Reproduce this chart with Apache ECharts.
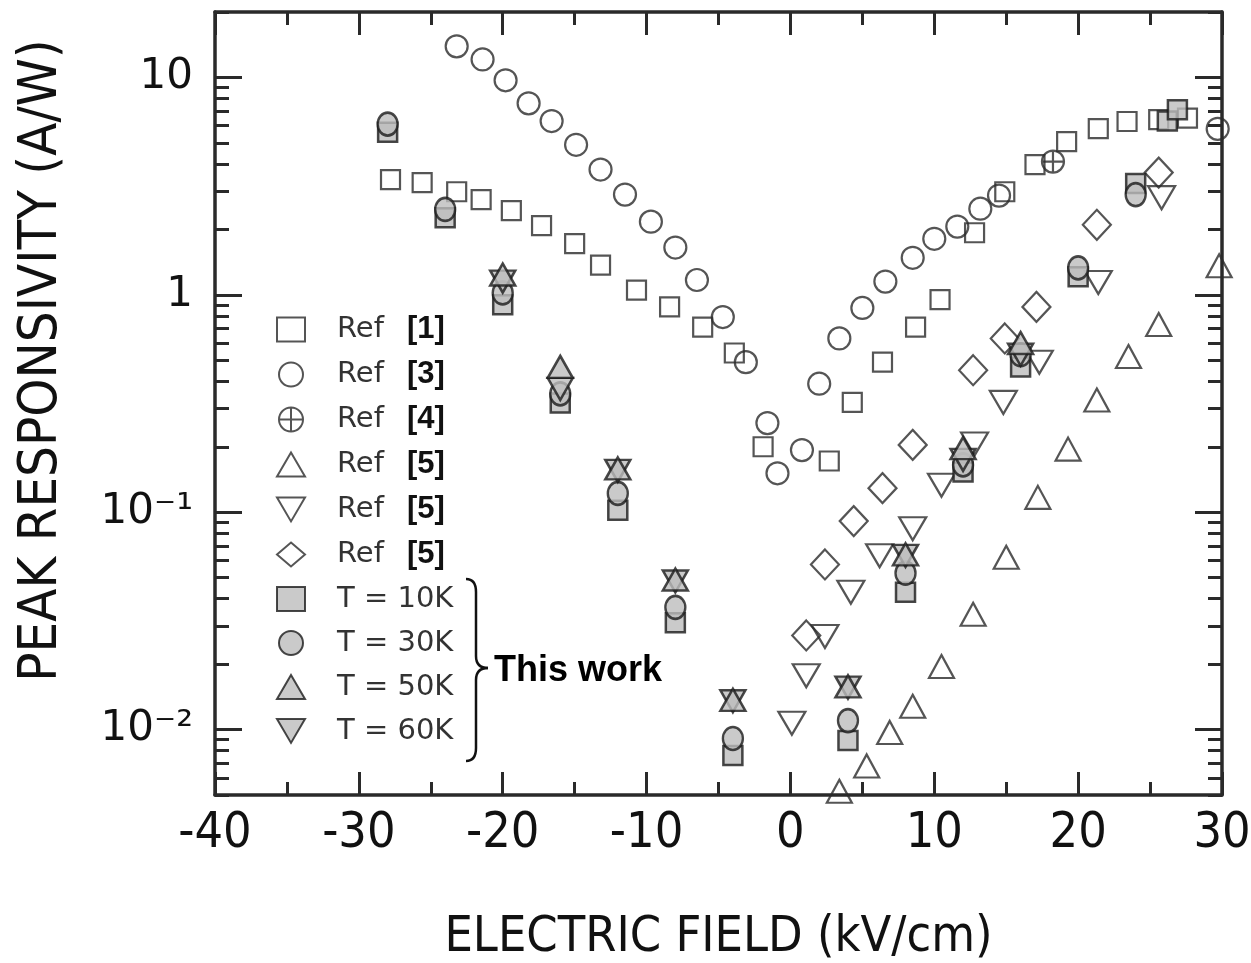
<!DOCTYPE html>
<html><head><meta charset="utf-8">
<script src="https://cdn.jsdelivr.net/npm/echarts@6/dist/echarts.min.js"></script>
<style>html,body{margin:0;padding:0;background:#fff}#c{width:1251px;height:963px}</style>
</head><body><div id="c"></div>
<script>
// ---- data (electric field in kV/cm, peak responsivity in A/W) ----
const ref1X = [-27.8,-25.6,-23.2,-21.5,-19.4,-17.3,-15.0,-13.2,-10.7,-8.4,-6.1,-3.9,-1.9,2.7,4.3,6.4,8.7,10.4,12.8,14.9,17.0,19.2,21.4,23.4,25.6,27.6];
const ref1Y = [3.39,3.28,2.98,2.74,2.44,2.08,1.72,1.37,1.05,0.88,0.71,0.54,0.20,0.172,0.32,0.49,0.71,0.95,1.93,2.98,3.97,5.07,5.82,6.27,6.4,6.5];
const ref3X = [-23.2,-21.4,-19.8,-18.2,-16.6,-14.9,-13.2,-11.5,-9.7,-8.0,-6.5,-4.7,-3.1,-1.6,-0.9,0.8,2.0,3.4,5.0,6.6,8.5,10.0,11.6,13.2,14.5,29.7];
const ref3Y = [13.9,12.1,9.7,7.6,6.3,4.9,3.77,2.89,2.17,1.65,1.17,0.79,0.49,0.257,0.151,0.193,0.39,0.63,0.87,1.15,1.48,1.81,2.06,2.49,2.86,5.8];
const ref4X = [18.25];
const ref4Y = [4.1];
const ref5aX = [3.4,5.3,6.9,8.5,10.5,12.7,15.0,17.2,19.3,21.3,23.5,25.6,29.8];
const ref5aY = [0.0052,0.0068,0.0097,0.0128,0.0195,0.0339,0.062,0.117,0.195,0.328,0.52,0.73,1.36];
const ref5bX = [0.1,1.1,2.4,4.2,6.2,8.5,10.5,12.8,14.8,17.3,21.4,25.8];
const ref5bY = [0.0107,0.0177,0.0268,0.0428,0.063,0.084,0.133,0.206,0.32,0.49,1.14,2.80];
const ref5cX = [1.1,2.4,4.4,6.4,8.5,12.7,14.9,17.1,21.3,25.6];
const ref5cY = [0.0271,0.0575,0.091,0.129,0.204,0.45,0.63,0.88,2.10,3.65];
const t10X = [-28,-24,-20,-16,-12,-8,-4,4,8,12,16,20,24,26.2,26.9];
const t10Y = [5.6,2.26,0.90,0.318,0.102,0.031,0.0076,0.0089,0.0428,0.153,0.466,1.21,3.25,6.3,7.1];
const t30X = [-28,-24,-20,-16,-12,-8,-4,4,8,12,16,20,24];
const t30Y = [6.1,2.47,1.02,0.35,0.122,0.0365,0.0091,0.011,0.0524,0.165,0.53,1.33,2.89];
const t50X = [-20,-16,-12,-8,-4,4,8,12,16];
const t50Y = [1.24,0.466,0.159,0.049,0.0137,0.0158,0.064,0.197,0.60];
const t60X = [-20,-16,-12,-8,-4,4,8,12,16];
const t60Y = [1.15,0.369,0.155,0.048,0.0135,0.0156,0.063,0.174,0.53];

const xTicks = [-40,-30,-20,-10,0,10,20,30];
const yMajor = [0.01,0.1,1,10];
const yMinor = [0.005,0.006,0.007,0.008,0.009,0.02,0.03,0.04,0.05,0.06,0.07,0.08,0.09,
                0.2,0.3,0.4,0.5,0.6,0.7,0.8,0.9,2,3,4,5,6,7,8,9,20];
const yLabels = {'1':'10','0':'1','-1':'10⁻¹','-2':'10⁻²'};

const pairs = (xs, ys) => xs.map((x,i)=>[x, ys[i]]);

const DK = '#2a2a2a';
const GRAY = '#bdbdbd';
const NARROW = '"Liberation Sans Narrow", "DejaVu Sans Condensed", "Liberation Sans", sans-serif';
const downTri = 'path://M0,0L20,0L10,17Z';
const circPlus = 'path://M0,10A10,10,0,1,1,20,10A10,10,0,1,1,0,10ZM10,0L10,20M0,10L20,10';

function openSeries(name, data, symbol, size) {
  return {type:'scatter', name, data, symbol, symbolSize:size,
    itemStyle:{color:'rgba(255,255,255,0)', borderColor:DK, borderWidth:2.2}, z:2};
}
function fillSeries(name, data, symbol, size, z) {
  return {type:'scatter', name, data, symbol, symbolSize:size,
    itemStyle:{color:GRAY, borderColor:'#1a1a1a', borderWidth:2.5}, z:z};
}

const series = [
  openSeries('Ref [1]', pairs(ref1X, ref1Y), 'rect', 19),
  openSeries('Ref [3]', pairs(ref3X, ref3Y), 'circle', 22),
  openSeries('Ref [4]', pairs(ref4X, ref4Y), circPlus, 22),
  openSeries('Ref [5]', pairs(ref5aX, ref5aY), 'triangle', [25,23]),
  openSeries('Ref [5] ', pairs(ref5bX, ref5bY), downTri, [27,23]),
  openSeries('Ref [5]  ', pairs(ref5cX, ref5cY), 'diamond', [28,30]),
  fillSeries('T = 10K', pairs(t10X, t10Y), 'rect', 19, 3),
  fillSeries('T = 30K', pairs(t30X, t30Y), 'circle', [20,23], 4),
  fillSeries('T = 60K', pairs(t60X, t60Y), downTri, [25,22], 5),
  fillSeries('T = 50K', pairs(t50X, t50Y), 'triangle', [25,22], 6)
];

const axLine = {show:true, onZero:false, lineStyle:{color:'#2a2a2a', width:3.5}};
function xAx(pos, labels) {
  return {type:'value', position:pos, min:-40, max:30, interval:10,
    axisLine:axLine, splitLine:{show:false},
    axisTick:{show:true, inside:true, length:23, lineStyle:{color:DK, width:3}},
    minorTick:{show:true, splitNumber:2, length:13, lineStyle:{color:DK, width:3}},
    axisLabel: labels ? {show:true, margin:14, color:'#111', fontFamily:NARROW, fontSize:50,
      formatter: v => xTicks.includes(v) ? String(v) : ''} : {show:false},
    name: labels ? 'ELECTRIC FIELD (kV/cm)' : '', nameLocation:'middle', nameGap:118,
    nameTextStyle:{fontFamily:NARROW, fontSize:50, color:'#111'}};
}
function yAx(pos, values, len, labels, line) {
  return {type:'log', logBase:10, position:pos, min:0.005, max:20,
    axisLine: line ? axLine : {show:false, onZero:false}, splitLine:{show:false}, minorTick:{show:false},
    axisTick:{show:true, inside:true, length:len, customValues:values, lineStyle:{color:DK, width:3}},
    axisLabel: labels ? {show:true, customValues:yMajor, margin:22, color:'#111',
      fontFamily:'DejaVu Sans', fontSize:42,
      formatter: v => yLabels[String(Math.round(Math.log10(v)))]} : {show:false},
    name: labels ? 'PEAK RESPONSIVITY (A/W)' : '', nameLocation:'middle', nameGap:146,
    nameTextStyle:{fontFamily:NARROW, fontSize:54, color:'#111', padding:[0,0,0,86]}};
}

const legendNames = ['Ref [1]','Ref [3]','Ref [4]','Ref [5]','Ref [5] ','Ref [5]  ','T = 10K','T = 30K','T = 50K','T = 60K'];
const braceStyle = {fill:'none', stroke:'#111', lineWidth:2.5};

const option = {
  backgroundColor:'#fff',
  animation:false,
  grid:{left:215, right:29, top:12, bottom:168, containLabel:false, outerBoundsMode:'none'},
  xAxis:[xAx('bottom', true), xAx('top', false)],
  yAxis:[yAx('left', yMajor, 27, true, true), yAx('left', yMinor, 14, false, false),
         yAx('right', yMajor, 27, false, true), yAx('right', yMinor, 14, false, false)],
  legend:{orient:'vertical', left:271, top:309, itemWidth:28, itemHeight:24, itemGap:14,
    data:legendNames,
    formatter: n => n.startsWith('Ref') ? '{g| }{r|Ref}{b|' + n.trim().slice(4) + '}' : '{g| }{t|' + n + '}',
    textStyle:{lineHeight:30, rich:{
      g:{width:27},
      r:{width:70, fontFamily:'DejaVu Sans', fontSize:29, color:'#333', lineHeight:30},
      b:{fontFamily:'Liberation Sans', fontWeight:'bold', fontSize:31, color:'#111', lineHeight:30},
      t:{fontFamily:'DejaVu Sans', fontSize:29, color:'#333', lineHeight:30}
    }}},
  graphic:[
    {type:'bezierCurve', shape:{x1:466,y1:579,x2:476,y2:592,cpx1:476,cpy1:579}, style:braceStyle},
    {type:'line', shape:{x1:476,y1:592,x2:476,y2:656}, style:braceStyle},
    {type:'bezierCurve', shape:{x1:476,y1:656,x2:488,y2:668,cpx1:476,cpy1:668}, style:braceStyle},
    {type:'bezierCurve', shape:{x1:488,y1:668,x2:476,y2:680,cpx1:476,cpy1:668}, style:braceStyle},
    {type:'line', shape:{x1:476,y1:680,x2:476,y2:748}, style:braceStyle},
    {type:'bezierCurve', shape:{x1:476,y1:748,x2:466,y2:761,cpx1:476,cpy1:761}, style:braceStyle},
    {type:'text', left:494, top:653, style:{text:'This work', fontFamily:'Liberation Sans', fontWeight:'bold', fontSize:36, fill:'#000'}}
  ],
  series: series
};
const chart = echarts.init(document.getElementById('c'), null, {renderer:'canvas'});
chart.setOption(option);
</script></body></html>
